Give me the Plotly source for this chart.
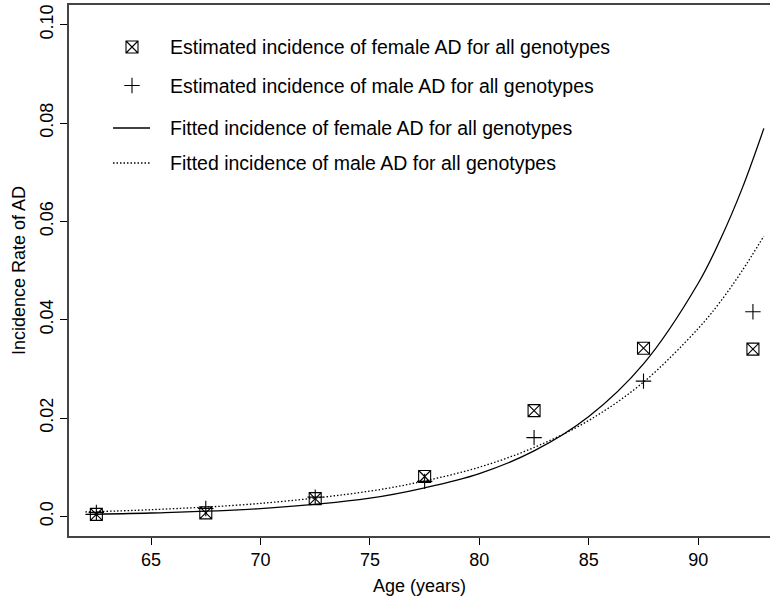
import plotly.graph_objects as go

# ---- data ----
age_groups = [62.5, 67.5, 72.5, 77.5, 82.5, 87.5, 92.5]
female_est = [0.0004, 0.0007, 0.0036, 0.0081, 0.0215, 0.0342, 0.0340]
male_est = [0.0008, 0.0016, 0.0039, 0.0071, 0.0160, 0.0275, 0.0416]

fit_age = [62, 65, 70, 75, 77.5, 80, 82.5, 85, 87.5, 90, 91, 92, 93]
female_fit = [0.00041, 0.00068, 0.00158, 0.0037, 0.0058, 0.0087, 0.0133, 0.0203,
              0.0310, 0.0474, 0.0562, 0.0666, 0.0789]
male_fit = [0.0009, 0.00135, 0.00263, 0.00513, 0.0072, 0.0100, 0.0140, 0.0195,
            0.0273, 0.0382, 0.0436, 0.0499, 0.0570]

x_ticks = [65, 70, 75, 80, 85, 90]
y_ticks = [0.0, 0.02, 0.04, 0.06, 0.08, 0.10]
y_tick_labels = ["0.0", "0.02", "0.04", "0.06", "0.08", "0.10"]

legend_labels = [
    "Estimated incidence of female AD for all genotypes",
    "Estimated incidence of male AD for all genotypes",
    "Fitted incidence of female AD for all genotypes",
    "Fitted incidence of male AD for all genotypes",
]

FONT = "Liberation Sans, Arial, Helvetica, sans-serif"
W, H = 770, 601
L, R, T, B = 69, 0, 5, 65
pw, ph = W - L - R, H - T - B

FEM_MARKER = dict(symbol="square-x-open", size=12, color="black",
                  line=dict(width=1.1, color="black"))
MALE_MARKER = dict(symbol="cross-thin-open", size=11, color="black",
                   line=dict(width=1.1, color="black"))
DOT = "1.5px,2px"

fig = go.Figure()

fig.add_trace(go.Scatter(x=fit_age, y=female_fit, mode="lines",
                         line=dict(color="black", width=1.3, shape="spline"),
                         showlegend=False))
fig.add_trace(go.Scatter(x=fit_age, y=male_fit, mode="lines",
                         line=dict(color="black", width=1.3, shape="spline", dash=DOT),
                         showlegend=False))
fig.add_trace(go.Scatter(x=age_groups, y=female_est, mode="markers",
                         marker=FEM_MARKER, showlegend=False))
fig.add_trace(go.Scatter(x=age_groups, y=male_est, mode="markers",
                         marker=MALE_MARKER, showlegend=False))

# ---- manual legend (pixel positions converted to paper coords) ----
def px2paper(px, py):
    return (px - L) / pw, (H - B - py) / ph

rows_y = [47, 85.5, 128, 163]
sym_x = 132
text_x = 168

for i, mk in [(0, FEM_MARKER), (1, MALE_MARKER)]:
    xx, yy = px2paper(sym_x, rows_y[i])
    fig.add_trace(go.Scatter(x=[xx], y=[yy], xaxis="x2", yaxis="y2", mode="markers",
                             marker=mk, showlegend=False, hoverinfo="skip"))
for i, dash in [(2, "solid"), (3, DOT)]:
    x0, yy = px2paper(113, rows_y[i])
    x1, _ = px2paper(150, rows_y[i])
    fig.add_shape(type="line", xref="paper", yref="paper", x0=x0, x1=x1, y0=yy, y1=yy,
                  line=dict(color="black", width=1.3, dash=dash))

for lab, ry in zip(legend_labels, rows_y):
    xx, yy = px2paper(text_x, ry)
    fig.add_annotation(text=lab, x=xx, y=yy, xref="paper", yref="paper",
                       xanchor="left", yanchor="middle", showarrow=False,
                       font=dict(family=FONT, size=19.5, color="black"))

fig.update_layout(
    width=W, height=H,
    margin=dict(l=L, r=R, t=T, b=B, pad=0),
    paper_bgcolor="white", plot_bgcolor="white",
    font=dict(family=FONT, size=18, color="black"),
    xaxis=dict(range=[61.25, 93.28], tickvals=x_ticks, ticks="outside", ticklen=7,
               tickcolor="black", tickwidth=1, showgrid=False, zeroline=False,
               showline=True, linecolor="#444", linewidth=1.5, mirror=True,
               title=dict(text="Age (years)", standoff=10, font=dict(size=18)),
               tickfont=dict(size=18)),
    yaxis=dict(range=[-0.004, 0.104], tickvals=y_ticks, ticktext=y_tick_labels,
               tickangle=-90, ticks="outside", ticklen=7, tickcolor="black", tickwidth=1,
               showgrid=False, zeroline=False, showline=True, linecolor="#444",
               linewidth=1.5, mirror=False,
               title=dict(text="Incidence Rate of AD", standoff=7, font=dict(size=18)),
               tickfont=dict(size=18)),
    xaxis2=dict(range=[0, 1], overlaying="x", visible=False, fixedrange=True),
    yaxis2=dict(range=[0, 1], overlaying="y", visible=False, fixedrange=True),
)

fig.write_html("out.html")
